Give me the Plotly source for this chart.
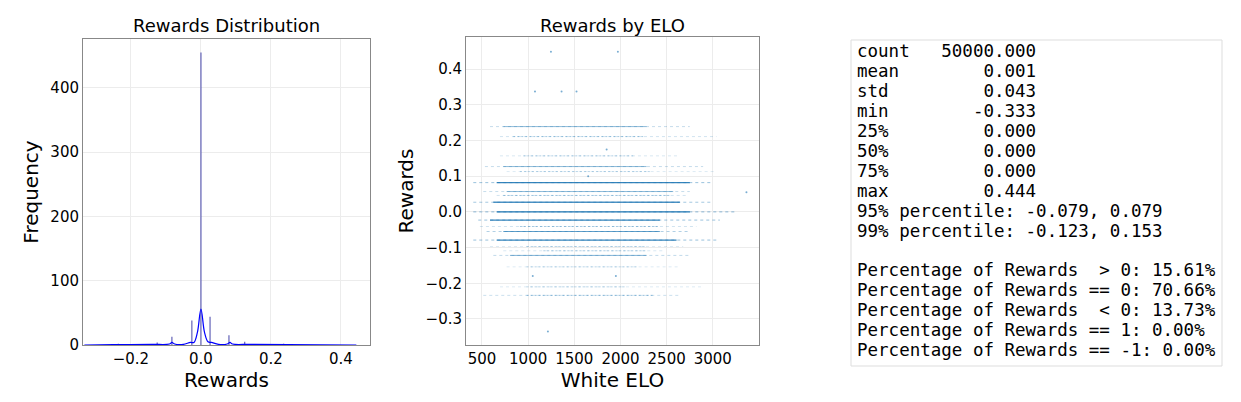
import plotly.graph_objects as go

W, H = 1241, 402
OFF = 8  # page body margin

# histogram spikes (reward bin, count)
hist_x = [-0.236, -0.125, -0.083, -0.026, 0.0, 0.026, 0.08, 0.125, 0.236]
hist_y = [2, 4, 13, 38, 455, 44, 15, 5, 2]

# kde curve points
kde_x = [-0.333, -0.25, -0.14, -0.09, -0.083, -0.075, -0.05, -0.03, -0.02, -0.01, 0.0, 0.01, 0.02, 0.03, 0.05, 0.075, 0.083, 0.09, 0.14, 0.25, 0.444]
kde_y = [0, 0.5, 1, 1.5, 4, 1.5, 1, 4, 4, 20, 56, 20, 5, 4, 1, 1.5, 4, 1.5, 1, 0.5, 0]

# scatter bands: reward level, sparse start, dense start, dense end, sparse end, density
band_reward = [0.239, 0.211, 0.157, 0.127, 0.113, 0.082, 0.057, 0.046, 0.027, 0.0,
               -0.023, -0.041, -0.055, -0.079, -0.097, -0.109, -0.122, -0.154, -0.210, -0.234]
band_lo_sparse = [587, 695, 695, 532, 767, 406, 514, 659, 406, 406, 460, 478, 550, 406, 587, 731, 623, 767, 695, 514]
band_lo_dense = [731, 839, 947, 731, 911, 659, 767, 731, 623, 659, 587, 911, 731, 659, 983, 1164, 803, 983, 983, 983]
band_hi_dense = [2282, 2246, 2138, 2282, 2318, 2751, 2571, 2535, 2643, 2751, 2426, 2426, 2426, 2607, 2282, 2282, 2282, 2174, 2066, 2354]
band_hi_sparse = [2751, 3040, 2643, 2895, 3040, 3003, 2751, 2715, 3003, 3256, 3076, 2823, 2751, 3040, 2679, 2462, 2751, 2643, 2895, 2643]
band_alpha = [0.5, 0.4, 0.35, 0.5, 0.3, 0.9, 0.5, 0.4, 0.8, 1.0, 0.9, 0.4, 0.7, 0.9, 0.3, 0.35, 0.55, 0.3, 0.3, 0.45]

# isolated points
out_elo = [1247, 1972, 1074, 1362, 1524, 1214, 3364, 1850, 1050, 1950, 1650]
out_reward = [0.449, 0.449, 0.337, 0.337, 0.337, -0.335, 0.055, 0.175, -0.18, -0.18, 0.1]

stats_lines = [
    "count   50000.000",
    "mean        0.001",
    "std         0.043",
    "min        -0.333",
    "25%         0.000",
    "50%         0.000",
    "75%         0.000",
    "max         0.444",
    "95% percentile: -0.079, 0.079",
    "99% percentile: -0.123, 0.153",
    "",
    "Percentage of Rewards  > 0: 15.61%",
    "Percentage of Rewards == 0: 70.66%",
    "Percentage of Rewards  < 0: 13.73%",
    "Percentage of Rewards == 1: 0.00%",
    "Percentage of Rewards == -1: 0.00%",
]


def px(v):
    return (v - OFF) / W


def py(v):
    return 1 - (v - OFF) / H


fig = go.Figure()

sx, sy = [], []
for x, y in zip(hist_x, hist_y):
    sx += [x, x, None]
    sy += [0, y, None]
fig.add_trace(go.Scatter(x=sx, y=sy, mode="lines", line=dict(color="rgba(70,70,170,0.85)", width=1.2),
                         xaxis="x", yaxis="y", showlegend=False))
fig.add_trace(go.Scatter(x=kde_x, y=kde_y, mode="lines", line=dict(color="blue", width=1.2, shape="spline"),
                         xaxis="x", yaxis="y", showlegend=False))

for r, a, b, c, d, al in zip(band_reward, band_lo_sparse, band_lo_dense, band_hi_dense, band_hi_sparse, band_alpha):
    fig.add_trace(go.Scatter(x=[a, d], y=[r, r], mode="lines",
                             line=dict(color="rgba(31,119,180,%.2f)" % (al * 0.5), width=1, dash="dot"),
                             xaxis="x2", yaxis="y2", showlegend=False))
    fig.add_trace(go.Scatter(x=[b, c], y=[r, r], mode="lines",
                             line=dict(color="rgba(31,119,180,%.2f)" % al, width=1.3 if al > 0.7 else 1,
                                       dash="solid" if al > 0.45 else "2px,2px"),
                             xaxis="x2", yaxis="y2", showlegend=False))
fig.add_trace(go.Scatter(x=out_elo, y=out_reward, mode="markers", marker=dict(color="rgba(31,119,180,0.6)", size=2),
                         xaxis="x2", yaxis="y2", showlegend=False))

ax = dict(showline=True, mirror=True, linecolor="#888", linewidth=1, gridcolor="#ececec", automargin=False,
          zeroline=False, ticks="", tickfont=dict(size=15, color="black"))

fig.update_layout(
    width=W, height=H, margin=dict(l=0, r=0, t=0, b=0),
    plot_bgcolor="white", paper_bgcolor="white",
    font=dict(family="DejaVu Sans", color="black"),
    xaxis=dict(ax, domain=[px(83), px(370)], range=[-0.337, 0.483], tickvals=[-0.2, 0, 0.2, 0.4],
               ticktext=["\u22120.2", "0.0", "0.2", "0.4"], anchor="y",
               title=dict(text="Rewards", font=dict(size=20), standoff=2)),
    yaxis=dict(ax, domain=[py(345), py(39)], range=[0, 476], tickvals=[0, 100, 200, 300, 400], anchor="x",
               title=dict(text="Frequency", font=dict(size=20), standoff=6)),
    xaxis2=dict(ax, domain=[px(466), px(759)], range=[327, 3500], tickvals=[500, 1000, 1500, 2000, 2500, 3000], anchor="y2",
                title=dict(text="White ELO", font=dict(size=20), standoff=2)),
    yaxis2=dict(ax, domain=[py(345), py(37)], range=[-0.373, 0.49], anchor="x2",
                tickvals=[-0.3, -0.2, -0.1, 0, 0.1, 0.2, 0.3, 0.4],
                ticktext=["\u22120.3", "\u22120.2", "\u22120.1", "0.0", "0.1", "0.2", "0.3", "0.4"],
                title=dict(text="Rewards", font=dict(size=20), standoff=6)),
)

fig.add_annotation(x=px((83 + 370) / 2), y=py(38), xref="paper", yref="paper", text="Rewards Distribution",
                   xanchor="center", yanchor="bottom", showarrow=False, font=dict(size=18))
fig.add_annotation(x=px((466 + 759) / 2), y=py(38), xref="paper", yref="paper", text="Rewards by ELO",
                   xanchor="center", yanchor="bottom", showarrow=False, font=dict(size=18))

fig.add_shape(type="rect", xref="paper", yref="paper", x0=px(851), x1=px(1222), y0=py(366), y1=py(40),
              line=dict(color="#dddddd", width=1), fillcolor="white", layer="below")
for i, line in enumerate(stats_lines):
    if not line:
        continue
    fig.add_annotation(x=px(855), y=py(51 + i * 19.95), xref="paper", yref="paper", xanchor="left",
                       yanchor="middle", showarrow=False, text=line.replace(" ", "\u00a0"),
                       font=dict(family="DejaVu Sans Mono", size=17.5))

fig.write_html("out.html")
